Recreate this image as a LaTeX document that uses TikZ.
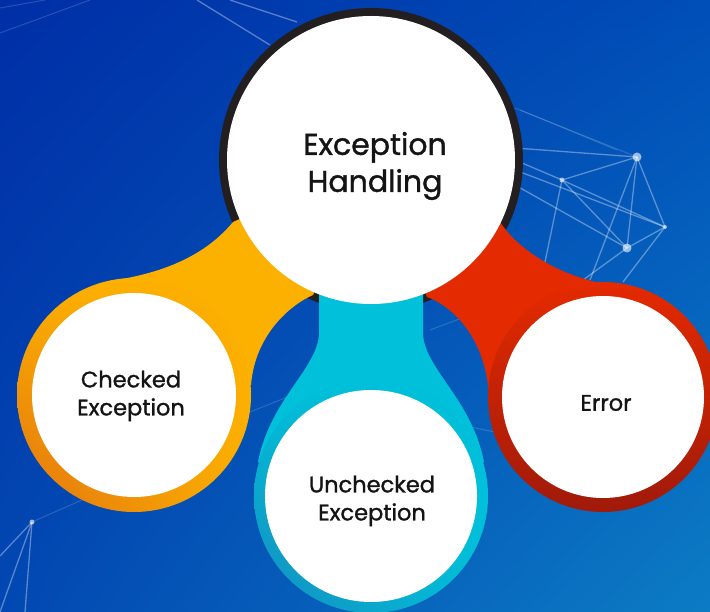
\documentclass[tikz,border=0pt]{standalone}
\usepackage{fontspec}
\setmainfont{Poppins}
\newfontfamily\labelfont{Poppins}[FakeBold=1.2]
\usetikzlibrary{calc,shadings}

\definecolor{bgA}{RGB}{0,46,166}
\definecolor{bgB}{RGB}{0,78,184}
\definecolor{bgC}{RGB}{2,72,178}
\definecolor{bgD}{RGB}{12,124,196}
\definecolor{ringdark}{RGB}{35,31,32}
\definecolor{orangeA}{RGB}{252,176,0}
\definecolor{orangeB}{RGB}{226,116,16}
\definecolor{cyanA}{RGB}{0,192,218}
\definecolor{cyanB}{RGB}{22,140,190}
\definecolor{redA}{RGB}{228,42,0}
\definecolor{redB}{RGB}{160,26,10}
\definecolor{inkc}{RGB}{20,20,20}

\tikzset{
  netline/.style={draw=white, line width=1.3pt, opacity=0.35},
  netfaint/.style={draw=white, line width=1pt, opacity=0.16},
  netdot/.style={fill=white, opacity=0.6},
  whitedisc/.style={fill=white},
  bigtext/.style={font=\labelfont\fontsize{30}{37}\selectfont, text=inkc, align=center},
  smalltext/.style={font=\labelfont\fontsize{22.5}{28}\selectfont, text=inkc, align=center},
}

\begin{document}
\begin{tikzpicture}[x=1pt, y=-1pt]
\useasboundingbox (0,0) rectangle (710,612);
\clip (0,0) rectangle (710,612);

% background
\shade[upper left=bgA, upper right=bgB, lower left=bgC, lower right=bgD]
  (0,0) rectangle (710,612);

% faint network lines
\coordinate (n1) at (637,157);
\coordinate (n2) at (562,180);
\coordinate (n3) at (665,227);
\coordinate (n4) at (627,248);
\coordinate (n5) at (32,522);
\coordinate (n6) at (297,22);
\path[netline] (n2) -- (n1) -- (n3) -- (n4) -- (n2) -- (n3);
\path[netline] (n1) -- (n4);
\path[netline] (515,148) -- (n1);
\path[netline] (515,160) -- (n2);
\path[netline] (515,170) -- (n3);
\path[netline] (515,185) -- (n4);
\path[netline] (n2) -- (545,262);
\path[netline] (n1) -- (590,280);
\path[netline] (n4) -- (583,280);
\path[netline] (n3) -- (623,282);
\path[netfaint] (515,108) -- (n1);
\path[netfaint] (520,110) -- (617,150);
\path[netfaint] (0,33) -- (90,0);
\path[netfaint] (0,8) -- (45,0);
\path[netline] (197,0) -- (270,45);
\path[netline] (230,0) -- (n6);
\path[netline] (n5) -- (0,556);
\path[netline] (n5) -- (25,612);
\path[netline] (n5) -- (0,612);
\path[netfaint] (n5) -- (82,500);
\path[netfaint] (250,412) -- (300,392);
\path[netfaint] (430,330) -- (470,315);
\path[netfaint] (460,425) -- (495,432);
\fill[netdot] (n1) circle (4.5);
\fill[netdot] (n4) circle (4.5);
\fill[netdot] (n2) circle (2.5);
\fill[netdot] (n3) circle (2);
\fill[netdot] (n5) circle (2.5);

% centre disc with dark ring
\coordinate (C) at (371,160);
\fill[ringdark] (C) circle (152);

% child centres
\coordinate (O) at (134,395);
\coordinate (U) at (371,496);
\coordinate (R) at (603,397);

% necks joining the children to the centre
\fill[orangeA] (233,222) .. controls (200,262) and (150,275) .. (110,281)
  -- (O) -- (251,385) .. controls (255,335) and (290,305) .. (313,295)
  -- (C) -- cycle;
\fill[cyanA] (319,292) -- (319,335) .. controls (316,370) and (270,400) .. (258,462)
  -- (U) -- (484,462) .. controls (472,400) and (426,370) .. (423,335)
  -- (423,292) -- (C) -- cycle;
\fill[redA] (500,222) .. controls (515,245) and (550,272) .. (600,283)
  -- (R) -- (489,395) .. controls (485,335) and (450,305) .. (427,297)
  -- (C) -- cycle;

% coloured child rings
\shade[upper left=orangeA, upper right=orangeA, lower right=orangeA, lower left=orangeB]
  (O) circle (117);
\shade[upper left=cyanA, upper right=cyanA, lower right=cyanA, lower left=cyanB]
  (U) circle (117);
\shade[upper left=redA, upper right=redA, lower right=redB, lower left=redB]
  (R) circle (115);

% white faces
\fill[whitedisc] (C) circle (144);
\fill[whitedisc] (O) circle (102);
\fill[whitedisc] (U) circle (106);
\fill[whitedisc] (R) circle (101);

% labels
\node[bigtext] (main) at (375,166) {Exception\\Handling};
\node[smalltext] (checked) at (131,396) {Checked\\Exception};
\node[smalltext] (unchecked) at (372,501) {Unchecked\\Exception};
\node[smalltext] (error) at (606,403) {Error};
\end{tikzpicture}
\end{document}
